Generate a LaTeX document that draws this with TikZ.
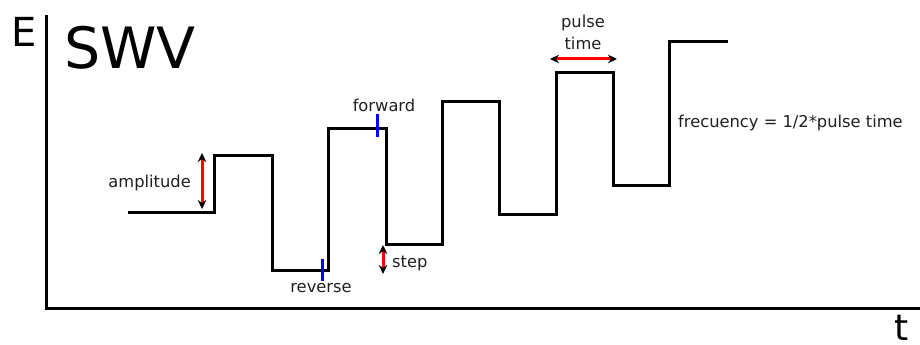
\documentclass[tikz,border=0pt]{standalone}
\usepackage{fontspec}
\setmainfont{DejaVu Sans}
\usetikzlibrary{arrows.meta}
\begin{document}
\begin{tikzpicture}[x=1pt,y=-1pt,
  wave/.style={line width=3pt,line join=miter},
  axis/.style={line width=3pt},
  marker/.style={blue,line width=3pt},
  dim/.style={red,line width=3pt,{Stealth[black,length=9pt,width=8.5pt]}-{Stealth[black,length=9pt,width=8.5pt]}},
  lbl/.style={inner sep=0pt,font=\fontsize{16.3}{19}\selectfont,text=black!88},
  big/.style={inner sep=0pt,font=\fontsize{40}{44}\selectfont}]
\useasboundingbox (0,0) rectangle (920,345);
% axes
\coordinate (ytop) at (46,15);
\coordinate (orig) at (46,308);
\coordinate (xend) at (920,308);
\draw[axis] (ytop) -- (orig) -- (xend);
\node[big,anchor=base west] (E) at (11,47) {E};
\node[inner sep=0pt,font=\fontsize{36}{40}\selectfont,anchor=base west] (t) at (894,340) {t};
\node[inner sep=0pt,font=\fontsize{57}{60}\selectfont,anchor=base west] (swv) at (64,68) {SWV};
% waveform
\draw[wave] (128,212) -- (214,212) -- (214,155) -- (272,155) -- (272,270)
  -- (328,270) -- (328,128) -- (386,128) -- (386,244) -- (442,244)
  -- (442,101) -- (499,101) -- (499,214) -- (556,214) -- (556,72)
  -- (613,72) -- (613,185) -- (669,185) -- (669,42) -- (728,42);
% amplitude
\coordinate (a1) at (202,153);
\coordinate (a2) at (202,209);
\draw[dim] (a1) -- (a2);
\node[lbl,anchor=east] (amp) at (191,183) {amplitude};
% reverse
\coordinate (r1) at (322,259);
\coordinate (r2) at (322,281);
\draw[marker] (r1) -- (r2);
\node[lbl,anchor=mid] (rev) at (321,290) {reverse};
% forward
\coordinate (f1) at (377,114);
\coordinate (f2) at (377,137);
\draw[marker] (f1) -- (f2);
\node[lbl,anchor=base] (fwd) at (384,111) {forward};
% step
\coordinate (s1) at (383,245);
\coordinate (s2) at (383,274);
\draw[dim] (s1) -- (s2);
\node[lbl,anchor=base west] (step) at (392,267) {step};
% pulse time
\coordinate (p1) at (550,59);
\coordinate (p2) at (617,59);
\draw[dim] (p1) -- (p2);
\node[lbl,anchor=base] (pulse) at (583,28) {pulse};
\node[lbl,anchor=base] (time) at (583,49) {time};
% frequency
\node[lbl,anchor=base west] (freq) at (678,127) {frecuency = 1/2*pulse time};
\end{tikzpicture}
\end{document}
